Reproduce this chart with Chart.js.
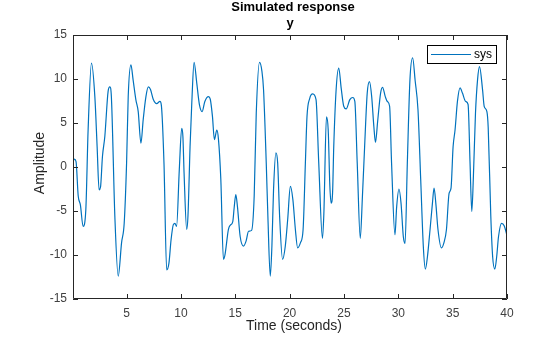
<!DOCTYPE html>
<html>
<head>
<meta charset="utf-8">
<title>Simulated response</title>
<script src="https://cdn.jsdelivr.net/npm/chart.js@4.4.1/dist/chart.umd.min.js"></script>
<style>
  html, body { margin: 0; padding: 0; background: #ffffff; }
  #wrap { width: 560px; height: 337px; position: relative; }
</style>
</head>
<body>
<div id="wrap"><canvas id="respChart" width="560" height="337"></canvas></div>
<script>
// ------------------------------------------------------------
// Simulated response (lsim style)
// ------------------------------------------------------------

// Time samples (seconds)
const timeValues = [
  0.0, 0.2, 0.35, 0.55, 0.75, 1.0, 1.25, 1.46, 1.77, 2.08,
  2.29, 2.47, 2.6, 2.78, 3.0, 3.3, 3.46, 3.6, 3.92, 4.23,
  4.54, 4.78, 5.0, 5.15, 5.4, 5.6, 5.86, 6.07, 6.32, 6.53,
  6.78, 7.0, 7.2, 7.45, 7.77, 8.07, 8.2, 8.44, 8.69, 8.9,
  9.09, 9.3, 9.45, 9.6, 9.85, 10.07, 10.18, 10.29, 10.53, 10.65,
  10.84, 11.0, 11.21, 11.46, 11.7, 11.95, 12.2, 12.53, 12.7, 12.9,
  13.08, 13.3, 13.45, 13.67, 13.91, 14.05, 14.37, 14.55, 14.77, 14.9,
  15.05, 15.2, 15.45, 15.76, 16.0, 16.22, 16.5, 16.74, 16.93, 17.23,
  17.45, 17.6, 17.85, 18.0, 18.22, 18.37, 18.52, 18.74, 18.9, 19.08,
  19.35, 19.6, 19.82, 20.07, 20.3, 20.53, 20.74, 21.0, 21.24, 21.45,
  21.6, 21.85, 22.12, 22.43, 22.68, 23.02, 23.15, 23.39, 23.55, 23.7,
  23.82, 23.95, 24.06, 24.28, 24.52, 24.75, 24.98, 25.2, 25.54, 25.81,
  26.0, 26.22, 26.5, 26.7, 26.9, 27.14, 27.35, 27.55, 27.75, 27.9,
  28.1, 28.37, 28.55, 28.8, 28.99, 29.2, 29.38, 29.69, 29.85, 30.06,
  30.25, 30.46, 30.62, 30.83, 31.07, 31.32, 31.55, 31.81, 32.06, 32.3,
  32.49, 32.68, 32.92, 33.14, 33.29, 33.45, 33.65, 33.97, 34.2, 34.43,
  34.67, 34.85, 35.04, 35.22, 35.44, 35.68, 35.9, 36.2, 36.42, 36.6,
  36.76, 36.9, 37.1, 37.29, 37.47, 37.75, 37.9, 38.15, 38.27, 38.51,
  38.68, 38.88, 39.05, 39.22, 39.5, 39.75, 40.0
];

// Output y amplitude at each time sample
const amplitudeValues = [
  0.2, 0.9, 0.6, -3.3, -4.3, -6.75, -4.85, 4.2, 11.8, 8.0,
  2.3, -2.6, -2.3, 1.2, 3.5, 8.6, 9.1, 8.0, -5.6, -12.4,
  -8.6, -6.4, 0.45, 8.0, 11.6, 9.9, 7.6, 6.3, 2.7, 5.4,
  8.0, 9.1, 8.8, 7.7, 7.2, 7.45, 7.0, 0.45, -11.7, -10.9,
  -8.3, -6.55, -6.4, -6.75, -0.3, 4.4, 3.5, -0.7, -7.1, -5.5,
  2.3, 7.3, 11.9, 9.5, 7.1, 6.3, 7.45, 8.0, 7.7, 5.75,
  3.1, 4.2, 3.2, -1.4, -10.5, -10.0, -7.1, -6.6, -6.2, -4.6,
  -3.15, -4.5, -7.9, -9.0, -8.4, -7.3, -7.2, -3.3, 6.1, 11.9,
  10.9, 8.8, 0.45, -5.6, -12.4, -9.0, -2.6, 1.6, 0.45, -5.6,
  -10.5, -9.0, -6.0, -2.2, -3.7, -7.1, -9.2, -8.6, -7.1, 0.45,
  5.75, 7.8, 8.3, 7.65, 0.45, -8.1, -5.3, 5.7, 4.2, -2.1,
  -4.1, -3.0, 2.3, 8.8, 11.25, 8.9, 6.9, 6.6, 7.65, 7.9,
  7.45, 0.45, -8.1, -3.3, 2.3, 8.4, 9.7, 8.0, 4.6, 2.8,
  5.2, 8.4, 9.05, 8.0, 7.45, 6.9, 0.45, -7.7, -4.5, -2.5,
  -4.1, -7.9, -8.7, 0.45, 9.9, 12.4, 9.8, 6.5, -1.4, -9.0,
  -11.6, -10.2, -7.1, -4.1, -2.4, -4.1, -7.1, -9.2, -8.6, -7.1,
  -3.0, -2.4, 2.3, 4.2, 7.45, 9.0, 8.4, 7.45, 7.1, 0.45,
  -5.05, -1.4, 6.1, 9.9, 11.4, 8.8, 6.9, 6.3, 4.5, -5.6,
  -10.2, -11.6, -10.2, -7.9, -6.4, -6.7, -7.8
];

// Axis ticks
const xTickValues = [5, 10, 15, 20, 25, 30, 35, 40];
const yTickValues = [-15, -10, -5, 0, 5, 10, 15];

const seriesName = 'sys';
const titleText = 'Simulated response';
const subtitleText = 'y';
const xLabel = 'Time (seconds)';
const yLabel = 'Amplitude';

// MATLAB-ish look
const LINE_BLUE = '#0072BD';
const AXIS_GRAY = '#262626';
const TEXT_GRAY = '#404040';
const FONT = "'Liberation Sans', Arial, Helvetica, sans-serif";

Chart.defaults.font.family = FONT;

// Box, inward ticks, titles and an in-plot legend
const matlabAxes = {
  id: 'matlabAxes',
  afterDraw(chart) {
    const { ctx, chartArea: a, scales } = chart;
    const x = scales.x, y = scales.y;
    const tick = 5;
    ctx.save();
    ctx.strokeStyle = AXIS_GRAY;
    ctx.lineWidth = 1;
    ctx.beginPath();
    ctx.rect(Math.round(a.left) + 0.5, Math.round(a.top) + 0.5,
             Math.round(a.width) - 1, Math.round(a.height) - 1);
    ctx.stroke();

    ctx.beginPath();
    xTickValues.forEach(v => {
      const px = Math.round(x.getPixelForValue(v)) + 0.5;
      ctx.moveTo(px, a.bottom); ctx.lineTo(px, a.bottom - tick);
      ctx.moveTo(px, a.top); ctx.lineTo(px, a.top + tick);
    });
    yTickValues.forEach(v => {
      const py = Math.round(y.getPixelForValue(v)) + 0.5;
      ctx.moveTo(a.left, py); ctx.lineTo(a.left + tick, py);
      ctx.moveTo(a.right, py); ctx.lineTo(a.right - tick, py);
    });
    ctx.stroke();

    // titles
    const cx = (a.left + a.right) / 2 + 3;
    ctx.fillStyle = '#000000';
    ctx.textAlign = 'center';
    ctx.textBaseline = 'alphabetic';
    ctx.font = `bold 13px ${FONT}`;
    ctx.fillText(titleText, cx, 11);
    ctx.font = `bold 13px ${FONT}`;
    ctx.fillText(subtitleText, cx - 3, 27);

    // axis labels
    ctx.fillStyle = AXIS_GRAY;
    ctx.font = `14px ${FONT}`;
    ctx.fillText(xLabel, cx + 1, 330);
    ctx.save();
    ctx.translate(44, (a.top + a.bottom) / 2 - 4);
    ctx.rotate(-Math.PI / 2);
    ctx.fillText(yLabel, 0, 0);
    ctx.restore();

    // legend box (top right, inside axes)
    const lx = 427, ly = 45, lw = 69, lh = 18;
    ctx.fillStyle = '#ffffff';
    ctx.fillRect(lx, ly, lw, lh);
    ctx.strokeStyle = '#000000';
    ctx.strokeRect(lx + 0.5, ly + 0.5, lw, lh);
    ctx.strokeStyle = LINE_BLUE;
    ctx.lineWidth = 1;
    ctx.beginPath();
    ctx.moveTo(lx + 4, ly + 9.5); ctx.lineTo(lx + 44, ly + 9.5);
    ctx.stroke();
    ctx.fillStyle = '#000000';
    ctx.textAlign = 'left';
    ctx.textBaseline = 'middle';
    ctx.font = `12px ${FONT}`;
    ctx.fillText(seriesName, lx + 47, ly + 10);
    ctx.restore();
  }
};

const points = timeValues.map((t, i) => ({ x: t, y: amplitudeValues[i] }));

new Chart(document.getElementById('respChart'), {
  type: 'line',
  data: {
    datasets: [{
      label: seriesName,
      data: points,
      borderColor: LINE_BLUE,
      borderWidth: 1.2,
      pointRadius: 0,
      fill: false,
      cubicInterpolationMode: 'monotone',
    }],
  },
  options: {
    responsive: false,
    animation: false,
    layout: { padding: { left: 0, top: 35, right: 53, bottom: 0 } },
    plugins: {
      legend: { display: false },
      title: { display: false },
      tooltip: { enabled: false },
    },
    scales: {
      x: {
        type: 'linear',
        min: 0.07,
        max: 40,
        afterBuildTicks: s => { s.ticks = xTickValues.map(v => ({ value: v })); },
        afterFit: s => { s.height = 38; },
        grid: { display: false, drawTicks: false },
        border: { display: false },
        ticks: {
          color: TEXT_GRAY,
          font: { size: 12 },
          padding: 7,
          maxRotation: 0,
        },
      },
      y: {
        type: 'linear',
        min: -15,
        max: 15,
        afterBuildTicks: s => { s.ticks = yTickValues.map(v => ({ value: v })); },
        afterFit: s => { s.width = 73; },
        grid: { display: false, drawTicks: false },
        border: { display: false },
        ticks: {
          color: TEXT_GRAY,
          font: { size: 12 },
          padding: 6,
        },
      },
    },
  },
  plugins: [matlabAxes],
});
</script>
</body>
</html>
